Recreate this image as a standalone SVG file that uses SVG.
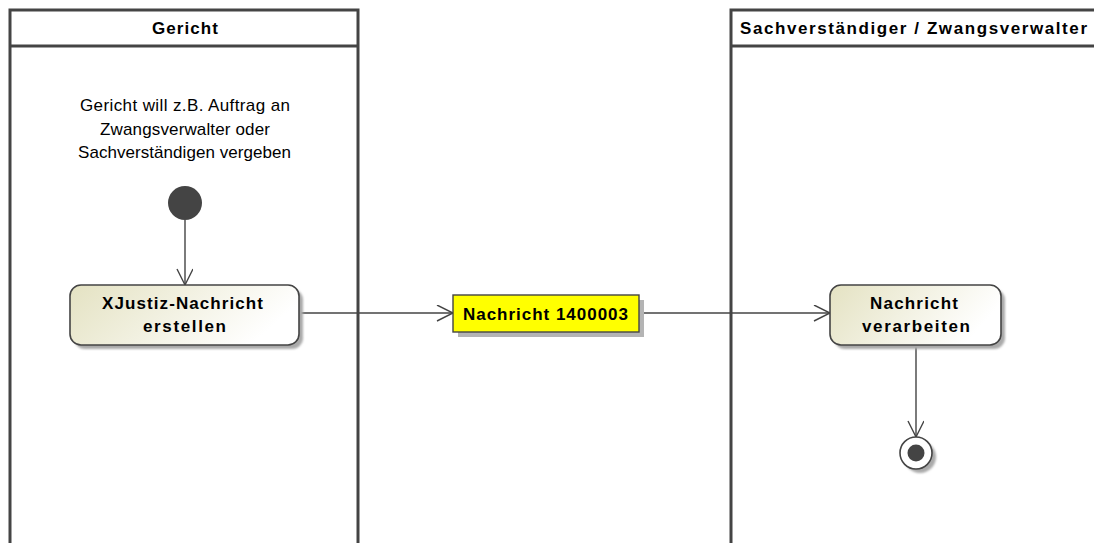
<svg xmlns="http://www.w3.org/2000/svg" width="1094" height="543" viewBox="0 0 1094 543">
<style>
.lane{fill:#fff;stroke:#444;stroke-width:3}
.lt{font-family:"Liberation Sans",Arial,sans-serif;font-size:17px;font-weight:bold;fill:#000}
.note{font-family:"Liberation Sans",Arial,sans-serif;font-size:17px;fill:#000}
.at{font-family:"Liberation Sans",Arial,sans-serif;font-size:17px;font-weight:bold;fill:#000}
.act{fill:url(#g);stroke:#444;stroke-width:1.6}
.sh{fill:#aaa;filter:url(#b)}
.edge{fill:none;stroke:#444;stroke-width:1.4}
</style>
<defs>
<linearGradient id="g" x1="0" y1="0" x2="1" y2="0.3">
<stop offset="0" stop-color="#e4e2c2"/>
<stop offset="1" stop-color="#ffffff"/>
</linearGradient>
<filter id="b" x="-20%" y="-20%" width="140%" height="140%"><feGaussianBlur stdDeviation="1.2"/></filter>
<marker id="a" markerWidth="20" markerHeight="20" refX="18" refY="8" orient="auto" markerUnits="userSpaceOnUse">
<path d="M2,0 L18,8 L2,16" fill="none" stroke="#444" stroke-width="1.4"/>
</marker>
</defs>
<rect width="1094" height="543" fill="#fff"/>
<g id="lane-gericht">
<rect class="lane" x="10" y="10" width="348" height="560"/>
<line x1="10" y1="46" x2="358" y2="46" stroke="#444" stroke-width="3"/>
<text class="lt" x="152" y="34" textLength="66" lengthAdjust="spacing">Gericht</text>
</g>
<g id="lane-sv">
<rect class="lane" x="731" y="10" width="400" height="560"/>
<line x1="731" y1="46" x2="1131" y2="46" stroke="#444" stroke-width="3"/>
<text class="lt" x="740" y="34" textLength="347" lengthAdjust="spacing">Sachverständiger / Zwangsverwalter</text>
</g>
<g id="note">
<text class="note" x="80" y="111" textLength="210" lengthAdjust="spacing">Gericht will z.B. Auftrag an</text>
<text class="note" x="100" y="135" textLength="170" lengthAdjust="spacing">Zwangsverwalter oder</text>
<text class="note" x="78" y="158" textLength="213" lengthAdjust="spacing">Sachverständigen vergeben</text>
</g>
<g id="connectors">
<line class="edge" x1="185" y1="220" x2="185" y2="285" marker-end="url(#a)"/>
<line class="edge" x1="299" y1="313" x2="453" y2="313" marker-end="url(#a)"/>
<line class="edge" x1="639" y1="313" x2="830" y2="313" marker-end="url(#a)"/>
<line class="edge" x1="916" y1="345" x2="916" y2="437" marker-end="url(#a)"/>
</g>
<g id="start">
<circle cx="185" cy="203" r="17" fill="#444"/>
</g>
<g id="action1">
<rect class="sh" x="74" y="289" width="229" height="60" rx="11"/>
<rect class="act" x="70" y="285" width="229" height="60" rx="11"/>
<text class="at" x="102" y="309" textLength="161" lengthAdjust="spacing">XJustiz-Nachricht</text>
<text class="at" x="143" y="332" textLength="83" lengthAdjust="spacing">erstellen</text>
</g>
<g id="object">
<rect x="458" y="300" width="186" height="37" fill="#b4b4b4"/>
<rect x="453" y="295" width="186" height="37" fill="#ffff00" stroke="#444" stroke-width="1.4"/>
<text class="at" x="463" y="320" textLength="165" lengthAdjust="spacing">Nachricht 1400003</text>
</g>
<g id="action2">
<rect class="sh" x="834" y="289" width="171" height="60" rx="11"/>
<rect class="act" x="830" y="285" width="171" height="60" rx="11"/>
<text class="at" x="870" y="309" textLength="88" lengthAdjust="spacing">Nachricht</text>
<text class="at" x="862" y="332" textLength="108" lengthAdjust="spacing">verarbeiten</text>
</g>
<g id="end">
<circle class="sh" cx="920" cy="457" r="16"/>
<circle cx="916" cy="453" r="16" fill="#fff" stroke="#444" stroke-width="1.6"/>
<circle cx="916" cy="453" r="8.5" fill="#444"/>
</g>
</svg>
